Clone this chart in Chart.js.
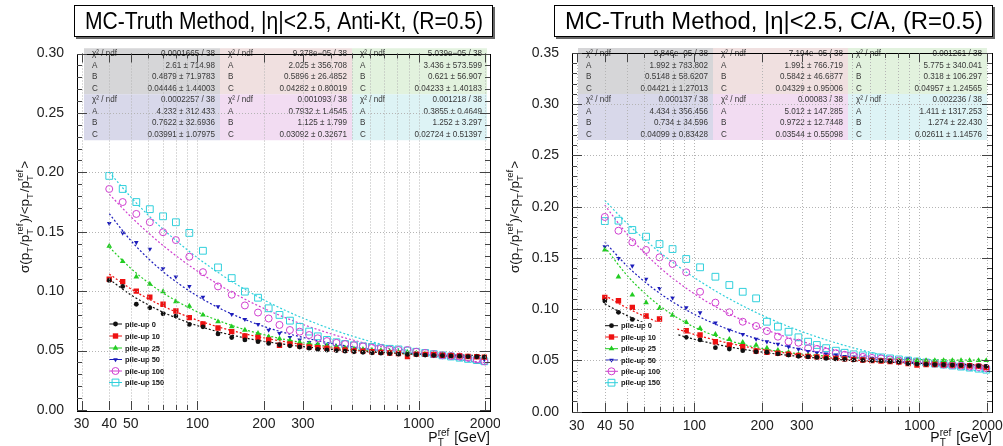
<!DOCTYPE html>
<html>
<head>
<meta charset="utf-8">
<script src="https://cdn.jsdelivr.net/npm/chart.js@4.4.1/dist/chart.umd.min.js"></script>
<style>
    body { margin: 0; background: #fff; width: 1003px; height: 446px; overflow: hidden; position: relative; font-family: "Liberation Sans", Arial, sans-serif; }
    canvas { position: absolute; top: 0; }
    #leftChart { left: 0; }
    #rightChart { left: 500px; }
    .title { position: absolute; top: 5px; height: 30px; border: 1px solid #000; background: #fff; box-shadow: 2px 2px 0 #666; white-space: nowrap; overflow: hidden; z-index: 2; }
    .title span { position: absolute; left: 50%; top: 50%; font-size: 23px; color: #000; }
</style>
</head>
<body>
<div class="title" id="leftTitle" style="left:74px; width:417px;"><span>MC-Truth Method, |η|&lt;2.5, Anti-Kt, (R=0.5)</span></div>
<div class="title" id="rightTitle" style="left:554px; width:437px;"><span>MC-Truth Method, |η|&lt;2.5, C/A, (R=0.5)</span></div>
<canvas id="leftChart" width="500" height="446"></canvas>
<canvas id="rightChart" width="503" height="446"></canvas>
<script>
// binning and axis ticks
const ptBins = [40, 46, 53, 61, 70, 80, 92, 106, 124, 143, 164, 188, 210, 235, 262, 290, 320, 350, 385, 425,
    465, 510, 560, 615, 675, 740, 810, 890, 975, 1070, 1170, 1280, 1400, 1530, 1670, 1830, 1980];
const fitPt = [40, 50, 60, 70, 80, 100, 130, 170, 220, 300, 420, 600, 850, 1200, 1600, 2000];
const xGridTicks = [30, 40, 50, 60, 70, 80, 90, 100, 200, 300, 400, 500, 600, 700, 800, 900, 1000, 2000];
const xLabeled = [30, 40, 50, 100, 200, 300, 1000, 2000];
const seriesNames = ["pile-up 0", "pile-up 10", "pile-up 25", "pile-up 50", "pile-up 100", "pile-up 150"];

// Anti-Kt panel points
const akt_pu0 = [0.109, 0.104, 0.089, 0.086, 0.081, 0.079, 0.072, 0.070, 0.064, 0.061, 0.059, 0.0575, 0.056, 0.055, 0.054, 0.053, 0.052, 0.051, 0.0505, 0.050,
    0.0495, 0.049, 0.0485, 0.048, 0.0478, 0.0475, 0.047, 0.0468, 0.0465, 0.0462, 0.046, 0.0458, 0.0455, 0.0453, 0.045, 0.0448, 0.0445];
const akt_pu10 = [0.110, 0.108, 0.100, 0.095, 0.089, 0.0833, 0.0777, 0.0724, 0.069, 0.066, 0.0623, 0.061, 0.059, 0.0545, 0.0555, 0.054, 0.053, 0.0525, 0.052, 0.051,
    0.0505, 0.050, 0.0495, 0.049, 0.0485, 0.048, 0.0475, 0.045, 0.047, 0.0468, 0.0465, 0.046, 0.0458, 0.0455, 0.045, 0.0448, 0.0445];
const akt_pu25 = [0.138, 0.125, 0.112, 0.106, 0.0996, 0.0912, 0.0875, 0.080, 0.0743, 0.0701, 0.0673, 0.0645, 0.0617, 0.060, 0.0585, 0.057, 0.056, 0.055, 0.054, 0.053,
    0.0522, 0.0515, 0.051, 0.0505, 0.050, 0.0495, 0.049, 0.0485, 0.048, 0.0475, 0.047, 0.0465, 0.046, 0.0455, 0.045, 0.0448, 0.0445];
const akt_pu50 = [0.157, 0.149, 0.141, 0.1355, 0.119, 0.112, 0.104, 0.095, 0.087, 0.0805, 0.0763, 0.0721, 0.0673, 0.0645, 0.0612, 0.059, 0.057, 0.0555, 0.0545, 0.053,
    0.052, 0.051, 0.0505, 0.050, 0.0495, 0.049, 0.0485, 0.048, 0.0478, 0.0475, 0.0472, 0.047, 0.046, 0.0458, 0.0455, 0.045, 0.0425];
const akt_pu100 = [0.186, 0.175, 0.165, 0.158, 0.1496, 0.143, 0.129, 0.116, 0.104, 0.097, 0.088, 0.082, 0.077, 0.0716, 0.0673, 0.0659, 0.0631, 0.0603, 0.058, 0.0565,
    0.0555, 0.0545, 0.0535, 0.0525, 0.052, 0.051, 0.0505, 0.0505, 0.049, 0.048, 0.047, 0.046, 0.0455, 0.045, 0.044, 0.0425, 0.041];
const akt_pu150 = [0.197, 0.186, 0.175, 0.169, 0.163, 0.158, 0.149, 0.134, 0.120, 0.111, 0.0996, 0.0945, 0.0856, 0.080, 0.0752, 0.070, 0.066, 0.062, 0.059, 0.057,
    0.0555, 0.0545, 0.0535, 0.053, 0.052, 0.0515, 0.051, 0.050, 0.049, 0.048, 0.047, 0.046, 0.045, 0.044, 0.043, 0.042, 0.041];

// Anti-Kt fitted curves (read at fitPt)
const akt_fit0 = [0.110, 0.097, 0.0885, 0.0823, 0.0776, 0.071, 0.0649, 0.0601, 0.0566, 0.0533, 0.0508, 0.0489, 0.0476, 0.0467, 0.0461, 0.0458];
const akt_fit10 = [0.1144, 0.1021, 0.0936, 0.0874, 0.0826, 0.0756, 0.0689, 0.0634, 0.0592, 0.0551, 0.0518, 0.0492, 0.0474, 0.0461, 0.0453, 0.0448];
const akt_fit25 = [0.137, 0.1193, 0.1072, 0.0985, 0.092, 0.0826, 0.0739, 0.0668, 0.0615, 0.0566, 0.0527, 0.0497, 0.0475, 0.046, 0.0451, 0.0446];
const akt_fit50 = [0.1652, 0.1427, 0.1275, 0.1164, 0.108, 0.0959, 0.0844, 0.075, 0.0678, 0.0611, 0.0555, 0.0511, 0.048, 0.0457, 0.0443, 0.0434];
const akt_fit100 = [0.1816, 0.1628, 0.1491, 0.1384, 0.1299, 0.1169, 0.1036, 0.0918, 0.082, 0.072, 0.063, 0.0554, 0.0495, 0.0448, 0.0418, 0.0399];
const akt_fit150 = [0.2001, 0.1793, 0.164, 0.1522, 0.1427, 0.1282, 0.1132, 0.0998, 0.0887, 0.0773, 0.0669, 0.0579, 0.0509, 0.0453, 0.0415, 0.0391];

// C/A panel points
const ca_pu0 = [0.108, 0.097, 0.090, 0.085, 0.080, 0.076, 0.0726, 0.070, 0.0625, 0.0612, 0.0595, 0.0585, 0.058, 0.0565, 0.0553, 0.054, 0.0535, 0.053, 0.052, 0.0515,
    0.051, 0.0505, 0.050, 0.0498, 0.0495, 0.049, 0.0485, 0.047, 0.0465, 0.0462, 0.046, 0.0458, 0.0455, 0.0452, 0.045, 0.0448, 0.0442];
const ca_pu10 = [0.1116, 0.1083, 0.1018, 0.0934, 0.0904, 0.083, 0.079, 0.0748, 0.0683, 0.0651, 0.0634, 0.0592, 0.058, 0.057, 0.056, 0.055, 0.054, 0.0535, 0.053, 0.052,
    0.0515, 0.051, 0.0505, 0.050, 0.0495, 0.049, 0.0485, 0.047, 0.0455, 0.046, 0.046, 0.0458, 0.0455, 0.045, 0.0448, 0.0445, 0.043];
const ca_pu25 = [0.158, 0.1317, 0.1139, 0.1064, 0.1009, 0.0943, 0.0872, 0.0813, 0.0755, 0.0706, 0.0677, 0.0651, 0.062, 0.060, 0.058, 0.056, 0.055, 0.054, 0.053, 0.052,
    0.0515, 0.051, 0.0505, 0.0505, 0.050, 0.050, 0.050, 0.050, 0.050, 0.050, 0.050, 0.050, 0.050, 0.050, 0.050, 0.050, 0.050];
const ca_pu50 = [0.161, 0.1497, 0.1422, 0.1295, 0.1204, 0.1112, 0.1015, 0.0966, 0.0868, 0.0797, 0.0755, 0.0709, 0.0683, 0.066, 0.0634, 0.061, 0.059, 0.0575, 0.0565, 0.0555,
    0.054, 0.0535, 0.0525, 0.052, 0.051, 0.0505, 0.050, 0.0515, 0.048, 0.047, 0.0465, 0.046, 0.0455, 0.045, 0.0445, 0.044, 0.0425];
const ca_pu100 = [0.190, 0.1766, 0.1653, 0.1578, 0.1506, 0.1441, 0.136, 0.117, 0.1064, 0.097, 0.0878, 0.0836, 0.0787, 0.0732, 0.0683, 0.0673, 0.0619, 0.0612, 0.0585, 0.057,
    0.0555, 0.0545, 0.0535, 0.0525, 0.052, 0.051, 0.050, 0.049, 0.0485, 0.048, 0.047, 0.046, 0.0455, 0.045, 0.044, 0.0435, 0.0425];
const ca_pu150 = [0.186, 0.1864, 0.1773, 0.1708, 0.1636, 0.1587, 0.149, 0.1409, 0.1317, 0.1236, 0.117, 0.1106, 0.0878, 0.083, 0.078, 0.0726, 0.0683, 0.0651, 0.062, 0.0595,
    0.0575, 0.056, 0.055, 0.054, 0.053, 0.052, 0.051, 0.050, 0.049, 0.048, 0.047, 0.046, 0.045, 0.044, 0.043, 0.042, 0.041];

// C/A fitted curves
const ca_fit0 = [0.1052, 0.094, 0.0865, 0.0809, 0.0767, 0.0707, 0.065, 0.0604, 0.0569, 0.0537, 0.0511, 0.0491, 0.0477, 0.0467, 0.0461, 0.0457];
const ca_fit10 = [0.1135, 0.1014, 0.0931, 0.0869, 0.0822, 0.0754, 0.0688, 0.0634, 0.0592, 0.0553, 0.0521, 0.0495, 0.0478, 0.0465, 0.0457, 0.0452];
const ca_fit25 = [0.1607, 0.1335, 0.1158, 0.1035, 0.0945, 0.0825, 0.0722, 0.0649, 0.060, 0.0563, 0.0537, 0.0521, 0.0512, 0.0506, 0.0503, 0.0502];
const ca_fit50 = [0.1657, 0.1426, 0.127, 0.1157, 0.1072, 0.095, 0.0836, 0.0744, 0.0673, 0.0608, 0.0554, 0.0513, 0.0484, 0.0463, 0.045, 0.0442];
const ca_fit100 = [0.2015, 0.1738, 0.1549, 0.141, 0.1304, 0.115, 0.1001, 0.0877, 0.0779, 0.0685, 0.0604, 0.0539, 0.049, 0.0454, 0.0431, 0.0417];
const ca_fit150 = [0.2062, 0.1842, 0.1682, 0.1558, 0.1459, 0.1308, 0.1153, 0.1015, 0.09, 0.0782, 0.0675, 0.0582, 0.0509, 0.0451, 0.0412, 0.0387];

// fit statistics boxes: chi2/ndf, A, B, C
const aktStats = [
    ["0.0001665 / 38", "2.61 ± 714.98", "0.4879 ± 71.9783", "0.04446 ± 1.44003"],
    ["9.278e−05 / 38", "2.025 ± 356.708", "0.5896 ± 26.4852", "0.04282 ± 0.80019"],
    ["5.039e−05 / 38", "3.436 ± 573.599", "0.621 ± 56.907", "0.04233 ± 1.40183"],
    ["0.0002257 / 38", "4.232 ± 312.433", "0.7622 ± 32.6936", "0.03991 ± 1.07975"],
    ["0.001093 / 38", "0.7932 ± 1.4545", "1.125 ± 1.799", "0.03092 ± 0.32671"],
    ["0.001218 / 38", "0.3855 ± 0.4649", "1.252 ± 3.297", "0.02724 ± 0.51397"]
];
const caStats = [
    ["9.846e−05 / 38", "1.992 ± 783.802", "0.5148 ± 58.6207", "0.04421 ± 1.27013"],
    ["7.194e−05 / 38", "1.991 ± 766.719", "0.5842 ± 46.6877", "0.04329 ± 0.95006"],
    ["0.001261 / 38", "5.775 ± 340.041", "0.318 ± 106.297", "0.04957 ± 1.24565"],
    ["0.000137 / 38", "4.434 ± 356.456", "0.734 ± 34.596", "0.04099 ± 0.83428"],
    ["0.00083 / 38", "5.012 ± 147.285", "0.9722 ± 12.7448", "0.03544 ± 0.55098"],
    ["0.002236 / 38", "1.411 ± 1317.253", "1.274 ± 22.430", "0.02611 ± 1.14576"]
];

const FONT = '"Liberation Sans", Arial, sans-serif';
const seriesStyle = [
    { color: "#111111", marker: "circle", r: 2.4, rot: 0, open: false },
    { color: "#ee1111", marker: "rect", r: 3.8, rot: 0, open: false },
    { color: "#22cc22", marker: "triangle", r: 3.3, rot: 0, open: false },
    { color: "#1c1cbb", marker: "triangle", r: 2.7, rot: 180, open: false },
    { color: "#d040d0", marker: "circle", r: 3.5, rot: 0, open: true },
    { color: "#30d0dc", marker: "rect", r: 4.8, rot: 0, open: true }
];
const statFill = ["#d6d6d8", "#f0e0e0", "#e2f2de", "#d8d8ea", "#f2dcf2", "#ddf3f5"];
const statLabels = ["χ² / ndf", "A", "B", "C"];

const yTitle = [{ t: "σ(p" }, { sub: "T" }, { t: "/p" }, { sub: "T", sup: "ref" }, { t: ")/<p" }, { sub: "T" }, { t: "/p" }, { sub: "T", sup: "ref" }, { t: ">" }];
const xTitle = [{ t: "P" }, { sub: "T", sup: "ref" }, { t: " [GeV]" }];

function richWidth(ctx, segs, size, small) {
    let w = 0;
    segs.forEach(s => {
        if (s.t) { ctx.font = size + "px " + FONT; w += ctx.measureText(s.t).width; }
        else {
            ctx.font = small + "px " + FONT;
            w += Math.max(ctx.measureText(s.sub || "").width, ctx.measureText(s.sup || "").width) + 1;
        }
    });
    return w;
}

function richDraw(ctx, segs, x, y, size, small) {
    ctx.textAlign = "left";
    ctx.textBaseline = "alphabetic";
    segs.forEach(s => {
        if (s.t) {
            ctx.font = size + "px " + FONT;
            ctx.fillText(s.t, x, y);
            x += ctx.measureText(s.t).width;
        } else {
            ctx.font = small + "px " + FONT;
            if (s.sub) ctx.fillText(s.sub, x, y + size * 0.28);
            if (s.sup) ctx.fillText(s.sup, x, y - size * 0.45);
            x += Math.max(ctx.measureText(s.sub || "").width, ctx.measureText(s.sup || "").width) + 1;
        }
    });
}

function drawMarker(ctx, st, x, y) {
    ctx.save();
    ctx.fillStyle = st.color;
    ctx.strokeStyle = st.color;
    ctx.lineWidth = 1;
    ctx.beginPath();
    if (st.marker === "circle") {
        ctx.arc(x, y, st.r, 0, Math.PI * 2);
    } else if (st.marker === "rect") {
        const s = st.r * Math.SQRT1_2;
        ctx.rect(x - s, y - s, 2 * s, 2 * s);
    } else {
        let rad = st.rot * Math.PI / 180;
        ctx.moveTo(x + Math.sin(rad) * st.r, y - Math.cos(rad) * st.r);
        rad += 2 * Math.PI / 3;
        ctx.lineTo(x + Math.sin(rad) * st.r, y - Math.cos(rad) * st.r);
        rad += 2 * Math.PI / 3;
        ctx.lineTo(x + Math.sin(rad) * st.r, y - Math.cos(rad) * st.r);
    }
    ctx.closePath();
    if (st.open) ctx.stroke(); else ctx.fill();
    ctx.restore();
}

// draw text squeezed horizontally, like the narrow font of the stat boxes
function narrowText(ctx, text, x, y, align, k) {
    ctx.save();
    ctx.translate(x, y);
    ctx.scale(k, 1);
    ctx.textAlign = align;
    ctx.fillText(text, 0, 0);
    ctx.restore();
}

// ROOT-like decorations: stat boxes, legend, grid redrawn on top, frame, ticks, axis titles
const rootDecor = {
    id: "rootDecor",
    afterDatasetsDraw(chart, args, o) {
        const ctx = chart.ctx;
        const a = chart.chartArea;
        const xs = chart.scales.x, ys = chart.scales.y;

        // stat boxes
        ctx.save();
        o.stats.forEach((box, i) => {
            const col = o.statCols[i % 3];
            const top = o.statTop + Math.floor(i / 3) * o.statLine * 4;
            ctx.fillStyle = statFill[i];
            ctx.fillRect(col[0], top, col[1] - col[0], o.statLine * 4);
            ctx.fillStyle = "#383838";
            ctx.font = "9px " + FONT;
            ctx.textBaseline = "middle";
            box.forEach((val, k) => {
                const y = top + o.statLine * (k + 0.5);
                narrowText(ctx, statLabels[k], col[0] + 8, y, "left", 0.9);
                narrowText(ctx, val, col[1] - 5, y, "right", 0.9);
            });
        });
        ctx.restore();

        // legend (white box hides the data under it)
        ctx.save();
        const lb = o.legendBox;
        ctx.fillStyle = "#fff";
        ctx.fillRect(lb[0], lb[1], lb[2] - lb[0], lb[3] - lb[1]);
        seriesNames.forEach((name, i) => {
            const y = o.legendY[i];
            const st = seriesStyle[i];
            ctx.strokeStyle = st.color;
            ctx.lineWidth = 1;
            ctx.beginPath();
            ctx.moveTo(o.legendLine[0], y);
            ctx.lineTo(o.legendLine[1], y);
            ctx.stroke();
            drawMarker(ctx, st, (o.legendLine[0] + o.legendLine[1]) / 2, y);
            ctx.fillStyle = "#111";
            ctx.font = "bold 7.5px " + FONT;
            ctx.textAlign = "left";
            ctx.textBaseline = "middle";
            ctx.fillText(name, o.legendLine[1] + 3, y + 0.5);
        });
        ctx.restore();

        // grid
        ctx.save();
        ctx.strokeStyle = "#b4b4b4";
        ctx.lineWidth = 1;
        ctx.setLineDash([1, 2]);
        xGridTicks.forEach(v => {
            const x = Math.round(xs.getPixelForValue(v)) + 0.5;
            ctx.beginPath(); ctx.moveTo(x, a.top); ctx.lineTo(x, a.bottom); ctx.stroke();
        });
        for (let v = 0.05; v < ys.max - 0.001; v += 0.05) {
            const y = Math.round(ys.getPixelForValue(v)) + 0.5;
            ctx.beginPath(); ctx.moveTo(a.left, y); ctx.lineTo(a.right, y); ctx.stroke();
        }
        ctx.restore();

        // frame and ticks
        ctx.save();
        ctx.strokeStyle = "#000";
        ctx.lineWidth = 1;
        ctx.strokeRect(Math.round(a.left) + 0.5, Math.round(a.top) + 0.5, Math.round(a.right - a.left), Math.round(a.bottom - a.top));
        ctx.strokeStyle = "#444";
        ctx.beginPath();
        const nY = Math.round(ys.max / 0.01);
        for (let k = 0; k <= nY; k++) {
            const y = Math.round(ys.getPixelForValue(k * 0.01)) + 0.5;
            const len = k % 5 === 0 ? 10 : 5;
            ctx.moveTo(a.left, y); ctx.lineTo(a.left + len, y);
            ctx.moveTo(a.right, y); ctx.lineTo(a.right - len, y);
        }
        xGridTicks.forEach(v => {
            const x = Math.round(xs.getPixelForValue(v)) + 0.5;
            const len = xLabeled.includes(v) ? 9 : 5;
            ctx.moveTo(x, a.bottom); ctx.lineTo(x, a.bottom - len);
            ctx.moveTo(x, a.top); ctx.lineTo(x, a.top + len);
        });
        ctx.stroke();
        ctx.restore();

        // axis titles
        ctx.save();
        ctx.fillStyle = "#111";
        const wy = richWidth(ctx, yTitle, 13.5, 9.5);
        ctx.translate(o.yTitleX, o.yTitleY);
        ctx.rotate(-Math.PI / 2);
        richDraw(ctx, yTitle, -wy / 2, 5, 13.5, 9.5);
        ctx.restore();
        ctx.save();
        ctx.fillStyle = "#111";
        const wx = richWidth(ctx, xTitle, 14, 10);
        richDraw(ctx, xTitle, a.right - wx, 442, 14, 10);
        ctx.restore();
    }
};

function buildPanel(canvasId, points, fits, cfg) {
    const datasets = [];
    seriesStyle.forEach((st, i) => {
        datasets.push({
            type: "line",
            label: seriesNames[i],
            data: ptBins.map((x, j) => ({ x: x, y: points[i][j] })),
            showLine: false,
            pointStyle: st.marker,
            pointRadius: st.r,
            pointRotation: st.rot,
            pointBackgroundColor: st.open ? "rgba(0,0,0,0)" : st.color,
            pointBorderColor: st.color,
            pointBorderWidth: st.open ? 1 : 0,
            order: 1
        });
        datasets.push({
            type: "line",
            label: seriesNames[i] + " fit",
            data: fitPt.map((x, j) => ({ x: x, y: fits[i][j] })),
            borderColor: st.color,
            borderWidth: 1.2,
            borderDash: [2, 2],
            pointRadius: 0,
            cubicInterpolationMode: "monotone",
            fill: false,
            order: 2
        });
    });

    return new Chart(document.getElementById(canvasId).getContext("2d"), {
        type: "line",
        data: { datasets: datasets },
        plugins: [rootDecor],
        options: {
            responsive: false,
            animation: false,
            events: [],
            layout: { padding: { left: 0, top: cfg.padTop, right: cfg.padRight, bottom: 0 } },
            plugins: {
                legend: { display: false },
                tooltip: { enabled: false },
                rootDecor: cfg
            },
            scales: {
                x: {
                    type: "logarithmic",
                    min: 28.6,
                    max: 2100,
                    grid: { display: false },
                    border: { display: false },
                    afterBuildTicks: scale => { scale.ticks = xGridTicks.map(v => ({ value: v })); },
                    afterFit: scale => { scale.height = cfg.xAxisH; },
                    ticks: {
                        autoSkip: false,
                        maxRotation: 0,
                        padding: -2,
                        color: "#222",
                        font: { size: 14, family: FONT },
                        callback: v => xLabeled.includes(v) ? String(v) : ""
                    }
                },
                y: {
                    type: "linear",
                    min: 0,
                    max: cfg.yMax,
                    grid: { display: false },
                    border: { display: false },
                    afterFit: scale => { scale.width = cfg.yAxisW; },
                    ticks: {
                        stepSize: 0.05,
                        padding: 5,
                        color: "#222",
                        font: { size: 14, family: FONT },
                        callback: v => v.toFixed(2)
                    }
                }
            }
        }
    });
}

document.addEventListener("DOMContentLoaded", () => {
    buildPanel("leftChart",
        [akt_pu0, akt_pu10, akt_pu25, akt_pu50, akt_pu100, akt_pu150],
        [akt_fit0, akt_fit10, akt_fit25, akt_fit50, akt_fit100, akt_fit150],
        {
            padTop: 53.5, padRight: 10, xAxisH: 36, yAxisW: 77, yMax: 0.30,
            stats: aktStats, statCols: [[84, 220], [220, 352], [352, 487]], statTop: 48.25, statLine: 11.5,
            legendBox: [84, 319, 178, 392], legendY: [324, 336, 348, 359.5, 371, 382.5], legendLine: [109, 122],
            yTitleX: 24, yTitleY: 217
        });
    buildPanel("rightChart",
        [ca_pu0, ca_pu10, ca_pu25, ca_pu50, ca_pu100, ca_pu150],
        [ca_fit0, ca_fit10, ca_fit25, ca_fit50, ca_fit100, ca_fit150],
        {
            padTop: 53, padRight: 11, xAxisH: 34.3, yAxisW: 72, yMax: 0.35,
            stats: caStats, statCols: [[78, 213], [213, 348], [348, 487]], statTop: 48, statLine: 11.5,
            legendBox: [98, 322, 177, 395], legendY: [325.7, 337, 348.7, 360, 371.3, 382.7], legendLine: [105, 118],
            yTitleX: 14, yTitleY: 217
        });

    // squeeze the title text to the width it has in the reference
    [["leftTitle", 398], ["rightTitle", 418]].forEach(([id, target]) => {
        const span = document.querySelector("#" + id + " span");
        const k = target / span.getBoundingClientRect().width;
        span.style.transform = "translate(-50%, -50%) scaleX(" + k.toFixed(3) + ")";
    });
});
</script>
</body>
</html>
